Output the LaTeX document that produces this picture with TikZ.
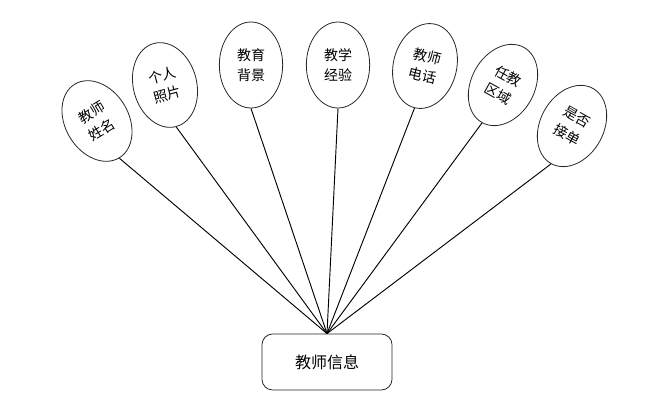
\documentclass[tikz,border=0pt]{standalone}
\usepackage{fontspec}
\setmainfont{Noto Sans CJK SC}
\usetikzlibrary{shapes.geometric}
\begin{document}
\begin{tikzpicture}[x=0.75pt,y=0.75pt,
  attr/.style={draw=black!85, line width=0.6pt, ellipse, minimum width=47.5pt, minimum height=64.5pt, inner sep=0pt, align=center, font=\fontsize{10.5}{15}\selectfont},
  entity/.style={draw=black!85, line width=0.6pt, rounded corners=8pt, minimum width=97.5pt, minimum height=42pt, font=\fontsize{12}{14}\selectfont},
  link/.style={line width=0.7pt, black}]
\useasboundingbox (0,0) rectangle (650,-400);
\node[entity] (ent) at (327,-362) {教师信息};
\node[attr, rotate=31] (e1) at (97,-121) {教师\\姓名};
\node[attr, rotate=15] (e2) at (165,-85) {个人\\照片};
\node[attr] (e3) at (251,-65) {教育\\背景};
\node[attr] (e4) at (338,-65) {教学\\经验};
\node[attr, rotate=-14] (e5) at (425,-66) {教师\\电话};
\node[attr, rotate=-29] (e6) at (503,-85) {任教\\区域};
\node[attr, rotate=-29] (e7) at (572,-126) {是否\\接单};
\foreach \e in {e1,e2,e3,e4,e5,e6,e7}
  \draw[link] (ent.north) -- (\e.south);
\end{tikzpicture}
\end{document}
